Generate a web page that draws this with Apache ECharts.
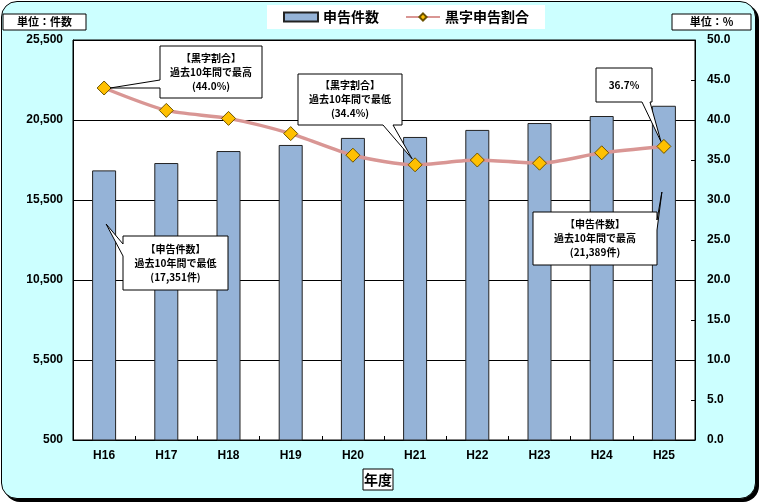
<!DOCTYPE html>
<html>
<head>
<meta charset="utf-8">
<script src="https://cdn.jsdelivr.net/npm/echarts@6/dist/echarts.min.js"></script>
<style>
html,body{margin:0;padding:0;background:#fff;}
#wrap{position:relative;width:761px;height:504px;}
#bg{position:absolute;left:1px;top:1px;width:753px;height:496px;background:#CCFFFF;border:1.5px solid #000;border-radius:16px;box-shadow:3px 3px 0 #000;}
#main{position:absolute;left:0;top:0;width:761px;height:504px;}
</style>
</head>
<body>
<div id="wrap"><div id="bg"></div><div id="main"></div></div>
<script>
const categories = ['H16','H17','H18','H19','H20','H21','H22','H23','H24','H25'];
const filingCounts = [17351, 17810, 18560, 18940, 19380, 19440, 19880, 20310, 20750, 21389];
const surplusRates = [44.0, 41.2, 40.2, 38.3, 35.6, 34.4, 35.0, 34.6, 35.9, 36.7];
const seriesNames = ['申告件数', '黒字申告割合'];

const FONT = '"Liberation Sans", Arial, sans-serif';
const JFONT = '"Noto Sans CJK JP", sans-serif';

const chart = echarts.init(document.getElementById('main'), null, {renderer: 'canvas'});
chart.setOption({
  backgroundColor: 'transparent',
  animation: false,
  grid: {left: 73, right: 66, top: 40, bottom: 64, show: true, backgroundColor: '#fff', borderColor: '#000', borderWidth: 1},
  legend: {
    left: 267, top: 5, backgroundColor: '#fff', padding: [5, 16, 5, 16], itemGap: 26,
    itemWidth: 34, itemHeight: 9,
    textStyle: {fontSize: 14, fontWeight: 'bold', color: '#000', fontFamily: JFONT},
    data: [{name: seriesNames[0], icon: 'rect'}, {name: seriesNames[1]}]
  },
  xAxis: {
    type: 'category', data: categories,
    axisLine: {lineStyle: {color: '#000', width: 1}},
    axisTick: {show: true, inside: true, length: 4, lineStyle: {color: '#000'}},
    axisLabel: {fontSize: 12, fontWeight: 'bold', color: '#000', fontFamily: FONT, margin: 10}
  },
  yAxis: [
    {
      type: 'value', min: 500, max: 25500, interval: 5000,
      axisLine: {show: true, lineStyle: {color: '#000'}},
      axisTick: {show: false},
      splitLine: {show: true, lineStyle: {color: '#000', width: 1}},
      axisLabel: {fontSize: 12, fontWeight: 'bold', color: '#000', fontFamily: FONT, margin: 10,
        formatter: v => v.toLocaleString('en-US')}
    },
    {
      type: 'value', min: 0, max: 50, interval: 5,
      axisLine: {show: true, lineStyle: {color: '#000'}},
      axisTick: {show: true, inside: true, length: 4, lineStyle: {color: '#000'}},
      splitLine: {show: false},
      axisLabel: {fontSize: 12, fontWeight: 'bold', color: '#000', fontFamily: FONT, margin: 12,
        formatter: v => v.toFixed(1)}
    }
  ],
  series: [
    {
      name: seriesNames[0], type: 'bar', yAxisIndex: 0, data: filingCounts, barWidth: 24,
      itemStyle: {color: '#95B3D7', borderColor: '#222', borderWidth: 1}
    },
    {
      name: seriesNames[1], type: 'line', yAxisIndex: 1, data: surplusRates, smooth: 0.25,
      lineStyle: {color: '#D99694', width: 3.5},
      symbol: 'diamond', symbolSize: 14,
      itemStyle: {color: '#FFC000', borderColor: '#6B5200', borderWidth: 1},
      z: 5
    }
  ]
});

function px(si, i, v) { return chart.convertToPixel({seriesIndex: si}, [i, v]); }

function callout(box, side, a, b, tip, text) {
  const x = box[0], y = box[1], w = box[2], h = box[3];
  let pts;
  if (side === 'left') pts = [[x,y],[x+w,y],[x+w,y+h],[x,y+h],[x,y+b],tip,[x,y+a]];
  else if (side === 'bottom') pts = [[x,y],[x+w,y],[x+w,y+h],[x+b,y+h],tip,[x+a,y+h],[x,y+h]];
  else if (side === 'right') pts = [[x,y],[x+w,y],[x+w,y+a],tip,[x+w,y+b],[x+w,y+h],[x,y+h]];
  else pts = [[x,y],[x+a,y],tip,[x+b,y],[x+w,y],[x+w,y+h],[x,y+h]];
  return [
    {type: 'polygon', shape: {points: pts}, style: {fill: '#fff', stroke: '#000', lineWidth: 1}, z: 100},
    {type: 'text', x: x + w / 2, y: y + h / 2, z: 101,
      style: {text: text, textAlign: 'center', textVerticalAlign: 'middle', fill: '#000',
        font: 'bold 10px ' + JFONT, lineHeight: 14}}
  ];
}

function unitBox(x, y, w, h, text, size) {
  return [
    {type: 'rect', shape: {x: x, y: y, width: w, height: h}, style: {fill: '#fff', stroke: '#000', lineWidth: 1}, z: 100},
    {type: 'text', x: x + w / 2, y: y + h / 2, z: 101,
      style: {text: text, textAlign: 'center', textVerticalAlign: 'middle', fill: '#000', font: 'bold ' + size + 'px ' + JFONT}}
  ];
}

const p16 = px(1, 0, surplusRates[0]);
const p21 = px(1, 5, surplusRates[5]);
const p25 = px(1, 9, surplusRates[9]);
const b16 = px(0, 0, 14000);
const b25 = px(0, 9, 16000);

let g = [];
g = g.concat(callout([160, 46, 102, 52], 'left', 34, 42, [p16[0] + 6, p16[1]], '【黒字割合】\n過去10年間で最高\n(44.0%)'));
g = g.concat(callout([298, 74, 104, 51], 'bottom', 85, 95, [p21[0] - 3, p21[1] - 6], '【黒字割合】\n過去10年間で最低\n(34.4%)'));
g = g.concat(callout([123, 236, 105, 54], 'left', 8, 20, [b16[0] + 2, b16[1]], '【申告件数】\n過去10年間で最低\n(17,351件)'));
g = g.concat(callout([533, 212, 124, 53], 'right', 8, 18, [b25[0] - 2, b25[1]], '【申告件数】\n過去10年間で最高\n(21,389件)'));
g = g.concat(callout([596, 68, 56, 34], 'bottom', 46, 54, [p25[0] - 3, p25[1] - 5], '36.7%'));
g = g.concat(unitBox(3, 14, 83, 16, '単位：件数', 11));
g = g.concat(unitBox(672, 14, 79, 16, '単位：%', 11));
g = g.concat(unitBox(363, 469, 30, 21, '年度', 14));

chart.setOption({graphic: g});
</script>
</body>
</html>
